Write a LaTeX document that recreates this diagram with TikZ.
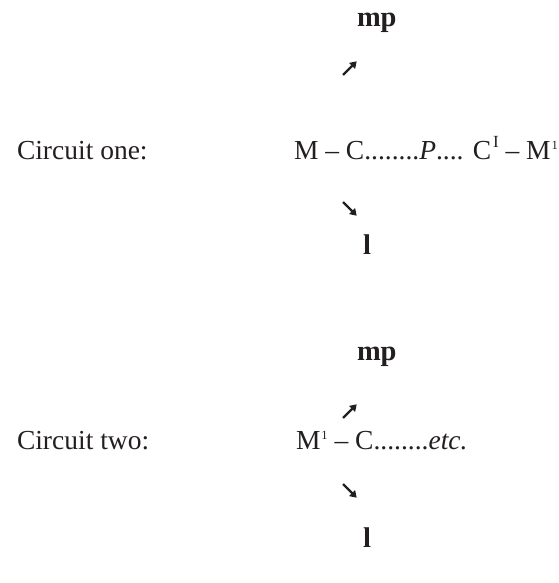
\documentclass[tikz,border=0pt]{standalone}
\usepackage{fontspec}
\setmainfont{Liberation Serif}
\usetikzlibrary{arrows.meta}
\definecolor{ink}{HTML}{231F20}
% small raised numeral one, and a raised roman I
\newcommand\supOne{\kern1pt\raisebox{0.36em}{\fontsize{12.5}{13}\selectfont 1}}
\newcommand\supRomanI{\kern2pt\raisebox{0.42em}{\fontsize{17}{18}\selectfont I}}
\tikzset{
  txt/.style={inner sep=0pt, outer sep=0pt, anchor=base west, text=ink,
    font=\fontsize{27.5}{31}\selectfont},
  bold/.style={txt, font=\fontsize{28.5}{32}\selectfont\bfseries},
  flow/.style={draw=ink, line width=2.4pt,
    -{Triangle[length=6.5pt,width=8pt]}, shorten >=-1pt}
}
\begin{document}
\begin{tikzpicture}[x=1pt,y=-1pt]
\useasboundingbox (0,0) rectangle (558,583);

% circuit one
\node[txt]  (lab1) at (17,159) {Circuit one:};
\node[txt]  (f1)   at (294,159) {M – C........\textit{P}.... C\supRomanI{} – M\supOne};
\node[bold] (mp1)  at (357,27) {mp};
\node[bold] (l1)   at (363,254) {l};
\coordinate (u1a) at (343,75);
\coordinate (u1b) at (356,62);
\coordinate (d1a) at (343,202);
\coordinate (d1b) at (356,215);
\draw[flow] (u1a) -- (u1b);
\draw[flow] (d1a) -- (d1b);

% circuit two
\node[txt]  (lab2) at (17,449) {Circuit two:};
\node[txt]  (f2)   at (296,449) {M\supOne{} – C........\textit{etc.}};
\node[bold] (mp2)  at (357,360) {mp};
\node[bold] (l2)   at (363,547) {l};
\coordinate (u2a) at (343,418);
\coordinate (u2b) at (356,405);
\coordinate (d2a) at (343,484);
\coordinate (d2b) at (356,497);
\draw[flow] (u2a) -- (u2b);
\draw[flow] (d2a) -- (d2b);
\end{tikzpicture}
\end{document}
